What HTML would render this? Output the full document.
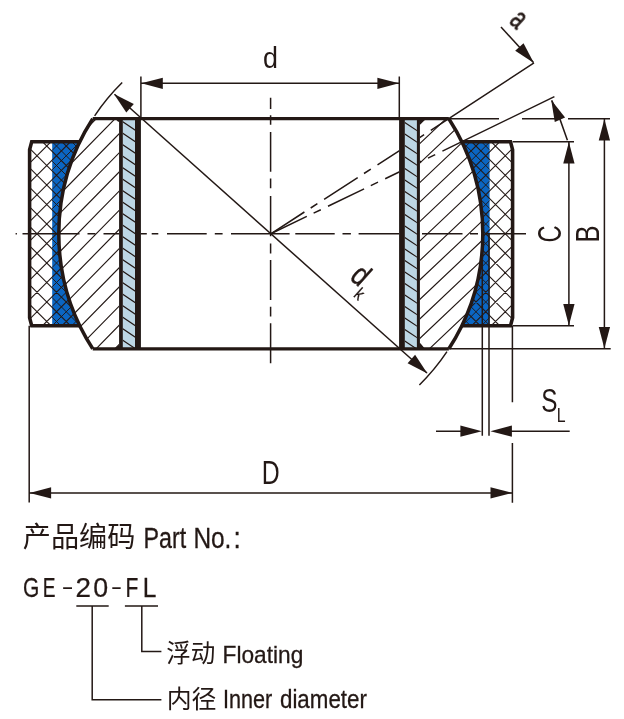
<!DOCTYPE html>
<html lang="zh">
<head>
<meta charset="utf-8">
<title>GE-FL spherical plain bearing</title>
<style>
html,body{margin:0;padding:0;background:#fff;}
body{width:624px;height:719px;overflow:hidden;font-family:"Liberation Sans",sans-serif;}
svg{display:block;position:absolute;left:0;top:0;}
text{font-family:"Liberation Sans",sans-serif;fill:#231815;}
.tk{stroke:#231815;stroke-width:3.3;fill:none;stroke-linejoin:miter;stroke-linecap:butt;}
.tn{stroke:#231815;stroke-width:1.5;fill:none;}
.ht{stroke:#231815;stroke-width:1.15;fill:none;}
.hf{stroke:#231815;stroke-width:0.95;fill:none;}
.ah{fill:#231815;stroke:none;}
</style>
</head>
<body>
<svg width="624" height="719" viewBox="0 0 624 719">

<defs>
<clipPath id="cBL"><path d="M92.73,118.7 L120.90,118.7 L120.90,348.8 L92.73,348.8 A212.0,212.0 0 0 1 92.73,118.7 Z"/></clipPath>
<clipPath id="cBR"><path d="M448.87,118.7 L418.40,118.7 L418.40,348.8 L448.87,348.8 A212.0,212.0 0 0 0 448.87,118.7 Z"/></clipPath>
<clipPath id="cRL"><path d="M31.70,141.8 L79.78,141.8 A212.0,212.0 0 0 0 79.78,325.7 L31.70,325.7 L29.6,317.7 L29.6,149.8 Z"/></clipPath>
<clipPath id="cRR"><path d="M510.50,141.8 L461.82,141.8 A212.0,212.0 0 0 1 461.82,325.7 L510.50,325.7 L512.6,317.7 L512.6,149.8 Z"/></clipPath>
<clipPath id="cUL"><path d="M52.2,141.8 L79.78,141.8 A212.0,212.0 0 0 0 79.78,325.7 L52.2,325.7 Z"/></clipPath>
<clipPath id="cUR"><path d="M489.6,141.8 L461.82,141.8 A212.0,212.0 0 0 1 461.82,325.7 L489.6,325.7 Z"/></clipPath>
<clipPath id="cLL"><rect x="122.8" y="118.7" width="12.20" height="230.10"/></clipPath>
<clipPath id="cLR"><rect x="404.8" y="118.7" width="12.10" height="230.10"/></clipPath>
</defs>
<path d="M52.2,141.8 L79.78,141.8 A212.0,212.0 0 0 0 79.78,325.7 L52.2,325.7 Z" fill="#0b66c3"/>
<path d="M489.6,141.8 L461.82,141.8 A212.0,212.0 0 0 1 461.82,325.7 L489.6,325.7 Z" fill="#0b66c3"/>
<path class="ht" clip-path="url(#cRL)" d="M25.0,65.75L85.0,125.75M25.0,85.25L85.0,145.25M25.0,104.75L85.0,164.75M25.0,124.25L85.0,184.25M25.0,143.75L85.0,203.75M25.0,163.25L85.0,223.25M25.0,182.75L85.0,242.75M25.0,202.25L85.0,262.25M25.0,221.75L85.0,281.75M25.0,241.25L85.0,301.25M25.0,260.75L85.0,320.75M25.0,280.25L85.0,340.25M25.0,299.75L85.0,359.75M25.0,319.25L85.0,379.25M25.0,338.75L85.0,398.75M25.0,358.25L85.0,418.25M25.0,128.75L85.0,68.75M25.0,148.25L85.0,88.25M25.0,167.75L85.0,107.75M25.0,187.25L85.0,127.25M25.0,206.75L85.0,146.75M25.0,226.25L85.0,166.25M25.0,245.75L85.0,185.75M25.0,265.25L85.0,205.25M25.0,284.75L85.0,224.75M25.0,304.25L85.0,244.25M25.0,323.75L85.0,263.75M25.0,343.25L85.0,283.25M25.0,362.75L85.0,302.75M25.0,382.25L85.0,322.25M25.0,401.75L85.0,341.75"/>
<path class="hf" clip-path="url(#cUL)" d="M50.0,100.50L85.0,135.50M50.0,120.00L85.0,155.00M50.0,139.50L85.0,174.50M50.0,159.00L85.0,194.00M50.0,178.50L85.0,213.50M50.0,198.00L85.0,233.00M50.0,217.50L85.0,252.50M50.0,237.00L85.0,272.00M50.0,256.50L85.0,291.50M50.0,276.00L85.0,311.00M50.0,295.50L85.0,330.50M50.0,315.00L85.0,350.00M50.0,334.50L85.0,369.50M50.0,354.00L85.0,389.00M50.0,373.50L85.0,408.50M50.0,393.00L85.0,428.00M50.0,94.00L85.0,59.00M50.0,113.50L85.0,78.50M50.0,133.00L85.0,98.00M50.0,152.50L85.0,117.50M50.0,172.00L85.0,137.00M50.0,191.50L85.0,156.50M50.0,211.00L85.0,176.00M50.0,230.50L85.0,195.50M50.0,250.00L85.0,215.00M50.0,269.50L85.0,234.50M50.0,289.00L85.0,254.00M50.0,308.50L85.0,273.50M50.0,328.00L85.0,293.00M50.0,347.50L85.0,312.50M50.0,367.00L85.0,332.00"/>
<path class="ht" clip-path="url(#cRR)" d="M455.0,127.95L517.0,65.95M455.0,147.45L517.0,85.45M455.0,166.95L517.0,104.95M455.0,186.45L517.0,124.45M455.0,205.95L517.0,143.95M455.0,225.45L517.0,163.45M455.0,244.95L517.0,182.95M455.0,264.45L517.0,202.45M455.0,283.95L517.0,221.95M455.0,303.45L517.0,241.45M455.0,322.95L517.0,260.95M455.0,342.45L517.0,280.45M455.0,361.95L517.0,299.95M455.0,381.45L517.0,319.45M455.0,400.95L517.0,338.95M455.0,66.55L517.0,128.55M455.0,86.05L517.0,148.05M455.0,105.55L517.0,167.55M455.0,125.05L517.0,187.05M455.0,144.55L517.0,206.55M455.0,164.05L517.0,226.05M455.0,183.55L517.0,245.55M455.0,203.05L517.0,265.05M455.0,222.55L517.0,284.55M455.0,242.05L517.0,304.05M455.0,261.55L517.0,323.55M455.0,281.05L517.0,343.05M455.0,300.55L517.0,362.55M455.0,320.05L517.0,382.05M455.0,339.55L517.0,401.55"/>
<path class="hf" clip-path="url(#cUR)" d="M455.0,118.20L495.0,78.20M455.0,137.70L495.0,97.70M455.0,157.20L495.0,117.20M455.0,176.70L495.0,136.70M455.0,196.20L495.0,156.20M455.0,215.70L495.0,175.70M455.0,235.20L495.0,195.20M455.0,254.70L495.0,214.70M455.0,274.20L495.0,234.20M455.0,293.70L495.0,253.70M455.0,313.20L495.0,273.20M455.0,332.70L495.0,292.70M455.0,352.20L495.0,312.20M455.0,371.70L495.0,331.70M455.0,391.20L495.0,351.20M455.0,76.30L495.0,116.30M455.0,95.80L495.0,135.80M455.0,115.30L495.0,155.30M455.0,134.80L495.0,174.80M455.0,154.30L495.0,194.30M455.0,173.80L495.0,213.80M455.0,193.30L495.0,233.30M455.0,212.80L495.0,252.80M455.0,232.30L495.0,272.30M455.0,251.80L495.0,291.80M455.0,271.30L495.0,311.30M455.0,290.80L495.0,330.80M455.0,310.30L495.0,350.30M455.0,329.80L495.0,369.80M455.0,349.30L495.0,389.30"/>
<path class="ht" clip-path="url(#cBL)" d="M55.0,65.02L125.0,-6.38M55.0,84.18L125.0,12.78M55.0,103.34L125.0,31.94M55.0,122.50L125.0,51.10M55.0,141.66L125.0,70.26M55.0,160.82L125.0,89.42M55.0,179.98L125.0,108.58M55.0,199.14L125.0,127.74M55.0,218.30L125.0,146.90M55.0,237.46L125.0,166.06M55.0,256.62L125.0,185.22M55.0,275.78L125.0,204.38M55.0,294.94L125.0,223.54M55.0,314.10L125.0,242.70M55.0,333.26L125.0,261.86M55.0,352.42L125.0,281.02M55.0,371.58L125.0,300.18M55.0,390.74L125.0,319.34M55.0,409.90L125.0,338.50M55.0,429.06L125.0,357.66M55.0,448.22L125.0,376.82M55.0,467.38L125.0,395.98M55.0,486.54L125.0,415.14M55.0,505.70L125.0,434.30M55.0,524.86L125.0,453.46"/>
<path class="ht" clip-path="url(#cBR)" d="M415.0,11.78L490.0,-59.17M415.0,31.26L490.0,-39.69M415.0,50.74L490.0,-20.21M415.0,70.22L490.0,-0.73M415.0,89.70L490.0,18.75M415.0,109.18L490.0,38.23M415.0,128.66L490.0,57.71M415.0,148.14L490.0,77.19M415.0,167.62L490.0,96.67M415.0,187.10L490.0,116.15M415.0,206.58L490.0,135.63M415.0,226.06L490.0,155.11M415.0,245.54L490.0,174.59M415.0,265.02L490.0,194.07M415.0,284.50L490.0,213.55M415.0,303.98L490.0,233.03M415.0,323.46L490.0,252.51M415.0,342.94L490.0,271.99M415.0,362.42L490.0,291.47M415.0,381.90L490.0,310.95M415.0,401.38L490.0,330.43M415.0,420.86L490.0,349.91M415.0,440.34L490.0,369.39M415.0,459.82L490.0,388.87"/>
<path class="tn" d="M15.6,233.75H16.9M22.5,233.75H79.5M87.5,233.75H95.5M103.5,233.75H146.8M151.7,233.75H158.3M167.0,233.75H206.7M214.8,233.75H222.6M231.0,233.75H289.6M295.3,233.75H334.7M342.5,233.75H350.9M358.6,233.75H400.0M422.0,233.75H462.5M470.0,233.75H478.0M486.0,233.75H526.0"/>
<path class="tn" d="M270.6,97.8V109.1M270.6,115.3V124.7M270.6,131.9V171.8M270.6,178.6V188.3M270.6,196.1V236.3M270.6,243.5V253.6M270.6,260.0V300.0M270.6,306.8V316.5M270.6,323.3V363.2"/>
<path class="tn" d="M270.8,233.8L304.4,212.0M310.7,208.0L317.4,203.6M324.1,199.3L357.7,177.6M364.0,173.5L370.8,169.2M377.5,164.8L411.1,143.1M417.4,139.1L424.1,134.7M430.8,130.4L534.0,62.9"/>
<path class="tn" d="M270.8,233.8L306.8,216.4M313.6,213.1L320.8,209.7M328.0,206.2L364.1,188.9M370.8,185.6L378.0,182.1M385.2,178.7L421.3,161.3M428.0,158.1L435.2,154.6M442.4,151.1L554.4,96.7"/>
<path class="tn" d="M114.5,94.3L427,373"/>
<rect x="119.1" y="118.7" width="21.80" height="230.10" fill="#bdd6e4"/>
<path class="ht" clip-path="url(#cLL)" d="M120.8,85.97L140.8,99.31M120.8,97.47L140.8,110.81M120.8,108.97L140.8,122.31M120.8,120.47L140.8,133.81M120.8,131.97L140.8,145.31M120.8,143.47L140.8,156.81M120.8,154.97L140.8,168.31M120.8,166.47L140.8,179.81M120.8,177.97L140.8,191.31M120.8,189.47L140.8,202.81M120.8,200.97L140.8,214.31M120.8,212.47L140.8,225.81M120.8,223.97L140.8,237.31M120.8,235.47L140.8,248.81M120.8,246.97L140.8,260.31M120.8,258.47L140.8,271.81M120.8,269.97L140.8,283.31M120.8,281.47L140.8,294.81M120.8,292.97L140.8,306.31M120.8,304.47L140.8,317.81M120.8,315.97L140.8,329.31M120.8,327.47L140.8,340.81M120.8,338.97L140.8,352.31M120.8,350.47L140.8,363.81"/>
<rect x="119.1" y="118.7" width="3.70" height="230.10" fill="#231815"/>
<rect x="135.0" y="118.7" width="5.90" height="230.10" fill="#231815"/>
<rect x="399.1" y="118.7" width="20.80" height="230.10" fill="#bdd6e4"/>
<path class="ht" clip-path="url(#cLR)" d="M401.7,85.97L421.7,99.31M401.7,97.47L421.7,110.81M401.7,108.97L421.7,122.31M401.7,120.47L421.7,133.81M401.7,131.97L421.7,145.31M401.7,143.47L421.7,156.81M401.7,154.97L421.7,168.31M401.7,166.47L421.7,179.81M401.7,177.97L421.7,191.31M401.7,189.47L421.7,202.81M401.7,200.97L421.7,214.31M401.7,212.47L421.7,225.81M401.7,223.97L421.7,237.31M401.7,235.47L421.7,248.81M401.7,246.97L421.7,260.31M401.7,258.47L421.7,271.81M401.7,269.97L421.7,283.31M401.7,281.47L421.7,294.81M401.7,292.97L421.7,306.31M401.7,304.47L421.7,317.81M401.7,315.97L421.7,329.31M401.7,327.47L421.7,340.81M401.7,338.97L421.7,352.31M401.7,350.47L421.7,363.81"/>
<rect x="399.1" y="118.7" width="5.70" height="230.10" fill="#231815"/>
<rect x="416.9" y="118.7" width="3.00" height="230.10" fill="#231815"/>
<path class="tk" d="M92.73,118.7H448.87M92.73,348.8H448.87"/>
<path class="tk" style="stroke-width:3.5" d="M92.73,118.7 A212.0,212.0 0 0 0 92.73,348.8"/>
<path class="tk" style="stroke-width:3.5" d="M448.87,118.7 A212.0,212.0 0 0 1 448.87,348.8"/>
<path class="tk" style="stroke-width:3.55" d="M80.28,141.8H31.70L29.6,149.8V317.7L31.70,325.7H80.28"/>
<path class="tk" style="stroke-width:3.55" d="M461.32,141.8H510.50L512.6,149.8V317.7L510.50,325.7H461.32"/>
<path class="ah" d="M419.4,118.7h5.6l-4.6,5.6h-1z M419.4,348.8h5.6l-4.6,-5.6h-1z"/>
<path class="ah" d="M119.6,118.7h-4.5l3,3h1.5z M119.6,348.8h-4.5l3,-3h1.5z"/>
<path class="tn" d="M140.9,76.5V118.7M399.3,76.5V118.7M140.9,83.3H399.3"/>
<path class="ah" d="M141.30,83.30L162.80,77.65L162.80,88.95Z"/>
<path class="ah" d="M398.90,83.30L377.40,88.95L377.40,77.65Z"/>
<path class="tn" d="M94.63,115.82A212.0,212.0 0 0 1 122.21,82.54M446.97,351.68A212.0,212.0 0 0 1 419.39,384.96"/>
<path class="ah" d="M114.00,93.90L133.81,103.99L126.29,112.43Z"/>
<path class="ah" d="M427.40,373.40L407.59,363.31L415.11,354.87Z"/>
<path class="tn" d="M501,27L533.5,62.5"/>
<path class="ah" d="M533.90,62.90L515.21,50.86L523.54,43.23Z"/>
<path class="tn" d="M551.74,100.35A311,311 0 0 1 567.41,140.23"/>
<path class="ah" d="M551.20,100.06L565.11,117.40L554.79,122.00Z"/>
<path class="tn" d="M448.9,118.7H499M522,118.7H555.5M568,118.7H610M512.6,141.8H574M512.6,325.7H574M448.9,348.8H610.7"/>
<path class="tn" d="M568.9,141.8V325.7M604.4,118.7V348.8"/>
<path class="ah" d="M568.90,142.10L574.55,163.60L563.25,163.60Z"/>
<path class="ah" d="M568.90,325.40L563.25,303.90L574.55,303.90Z"/>
<path class="ah" d="M604.40,119.00L610.05,140.50L598.75,140.50Z"/>
<path class="ah" d="M604.40,348.50L598.75,327.00L610.05,327.00Z"/>
<path class="tn" d="M482.3,233.75V435.7M489.0,233.75V435.7M436,431.2H470M500,431.2H569.7"/>
<path class="ah" d="M481.90,431.20L460.40,436.85L460.40,425.55Z"/>
<path class="ah" d="M490.40,431.20L511.90,425.55L511.90,436.85Z"/>
<path class="tn" d="M29.2,325.7V502.6M512.4,325.7V402.3M512.4,443V502.7M29.2,492.9H512.4"/>
<path class="ah" d="M29.60,492.90L51.10,487.25L51.10,498.55Z"/>
<path class="ah" d="M512.00,492.90L490.50,498.55L490.50,487.25Z"/>
<path class="tn" d="M76.3,606H108.7M124.9,606H158M92.2,606V699.8H161.4M141.8,606V651.6H161.4"/>
<g opacity="0.999">
<text transform="translate(270.25,57.00) rotate(0.00) translate(-7.18,10.71) scale(0.8982,1)" font-size="29.96">d</text>
<text transform="translate(271.15,472.35) rotate(0.00) translate(-9.39,11.30) scale(0.7555,1)" font-size="32.85">D</text>
<text transform="translate(549.20,233.70) rotate(-90.00) translate(-8.70,11.38) scale(0.7166,1)" font-size="33.05">C</text>
<text transform="translate(587.65,233.70) rotate(-90.00) translate(-8.90,11.65) scale(0.7545,1)" font-size="33.87">B</text>
<text transform="translate(549.40,400.20) rotate(0.00) translate(-8.10,11.47) scale(0.7296,1)" font-size="33.33">S</text>
<text transform="translate(561.50,414.95) rotate(0.00) translate(-4.80,6.75) scale(0.8091,1)" font-size="19.62">L</text>
<text transform="translate(518.20,20.50) rotate(43.00) translate(-6.18,8.29) scale(0.6573,1)" font-size="31.40" stroke="#231815" stroke-width="0.75" stroke-linejoin="round">a</text>
<text transform="translate(361.30,274.50) rotate(41.73) translate(-6.76,11.19) scale(0.8094,1)" font-size="31.32" stroke="#231815" stroke-width="0.45" stroke-linejoin="round">d</text>
<text transform="translate(360.10,293.90) rotate(41.73) translate(-4.19,6.50) scale(0.8218,1)" font-size="17.94" stroke="#231815" stroke-width="0.25" stroke-linejoin="round">k</text>
<text transform="translate(143.49,547.90) scale(0.8005,1)" font-size="29.07" stroke="#231815" stroke-width="0.3">Part</text>
<text transform="translate(193.39,547.90) scale(0.8408,1)" font-size="29.07" stroke="#231815" stroke-width="0.3">No.</text>
<text transform="translate(233.60,547.90) scale(0.9032,1)" font-size="29.07" stroke="#231815" stroke-width="0.3">:</text>
<text transform="translate(23.04,597.30) scale(0.7639,1)" font-size="27.47" stroke="#231815" stroke-width="0.25">G</text>
<text transform="translate(42.73,597.30) scale(0.6985,1)" font-size="27.47" stroke="#231815" stroke-width="0.25">E</text>
<text transform="translate(61.48,594.49) scale(1.3270,0.78)" font-size="27.47">-</text>
<text transform="translate(75.40,597.30) scale(1.0148,1)" font-size="27.47" stroke="#231815" stroke-width="0.25">2</text>
<text transform="translate(93.25,597.30) scale(0.9747,1)" font-size="27.47" stroke="#231815" stroke-width="0.25">0</text>
<text transform="translate(110.87,594.49) scale(1.2524,0.78)" font-size="27.47">-</text>
<text transform="translate(125.57,597.30) scale(0.7671,1)" font-size="27.47" stroke="#231815" stroke-width="0.25">F</text>
<text transform="translate(142.79,597.30) scale(0.8916,1)" font-size="27.47" stroke="#231815" stroke-width="0.25">L</text>
<text transform="translate(222.54,662.50) scale(0.9342,1)" font-size="24.29" stroke="#231815" stroke-width="0.3">Floating</text>
<text transform="translate(222.91,708.20) scale(0.8593,1)" font-size="25.15" stroke="#231815" stroke-width="0.3">Inner</text>
<text transform="translate(279.96,708.20) scale(0.8760,1)" font-size="25.53" stroke="#231815" stroke-width="0.3">diameter</text>
</g>
<text x="22.76" y="547" font-size="28.17" style="font-family:'Liberation Sans','Noto Sans CJK SC',sans-serif">产品编码</text>
<text x="166.27" y="661.8" font-size="24.59" style="font-family:'Liberation Sans','Noto Sans CJK SC',sans-serif">浮动</text>
<text x="166.73" y="708" font-size="24.92" style="font-family:'Liberation Sans','Noto Sans CJK SC',sans-serif">内径</text>
</svg>
</body>
</html>
